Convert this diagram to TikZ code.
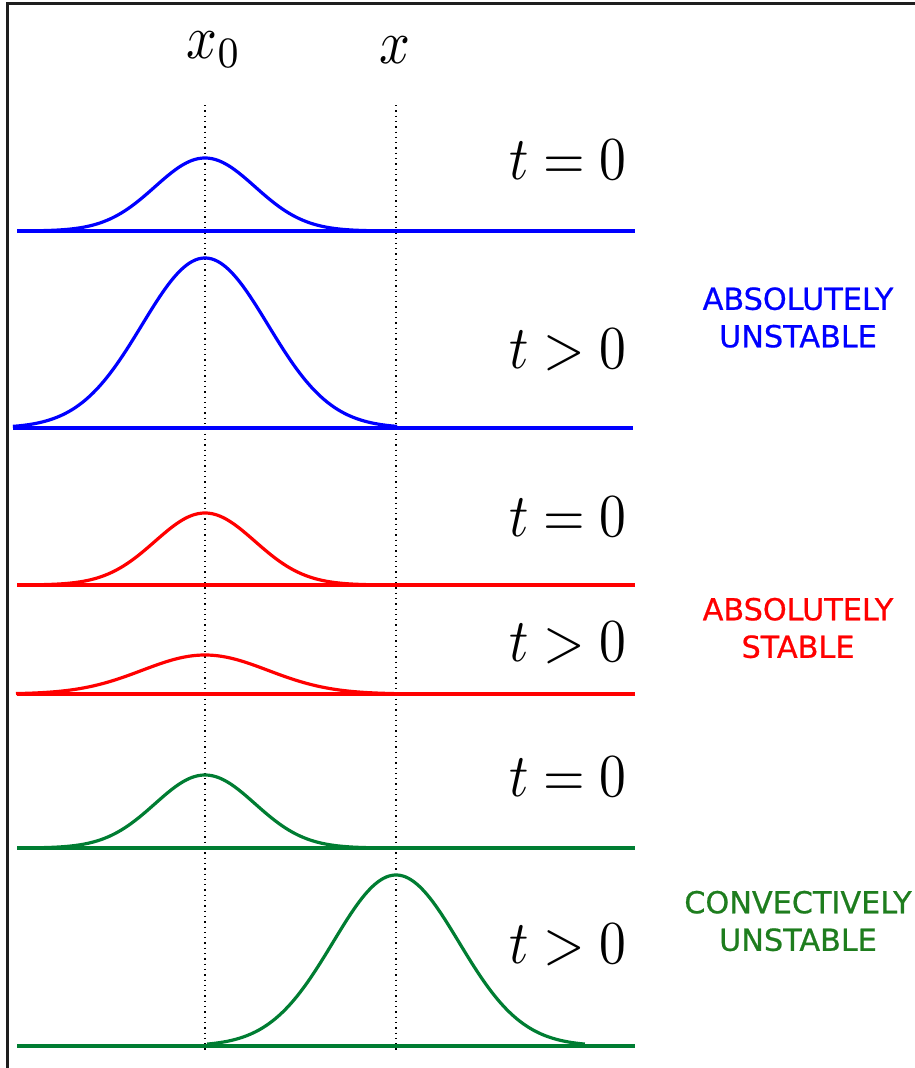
\documentclass[tikz,border=0pt]{standalone}
\usepackage{fontspec}
\usepackage{graphicx}
\newfontfamily\dvsans[FakeBold=0.7]{DejaVu Sans}
\definecolor{cblue}{RGB}{0,0,255}
\definecolor{cred}{RGB}{255,0,0}
\definecolor{cgreen}{RGB}{0,125,50}
\definecolor{tgreen}{RGB}{30,125,30}
\definecolor{framec}{RGB}{30,30,30}
\tikzset{
  curve/.style={line width=3.2pt, line join=round},
  guide/.style={line width=1.2pt, dash pattern=on 1.3pt off 4pt},
  tlabel/.style={inner sep=0pt},
  xlabel/.style={inner sep=0pt},
  side/.style={inner sep=0pt, align=center, font=\dvsans\fontsize{30.3}{37.5}\selectfont},
}
\newcommand{\tlab}[1]{\scalebox{5.35}[6.1]{$#1$}}
\newcommand{\xlab}[1]{\scalebox{5.4}[6.2]{$#1$}}
% color, base, height, center, sigma, half-range in sigma
\newcommand{\gauss}[6]{%
  \draw[#1, curve] plot[domain=-#6:#6, samples=140, smooth] ({#4+#5*\x}, {#2 - #3*exp(-0.5*\x*\x)});
}
\begin{document}
\begin{tikzpicture}[x=1pt, y=-1pt]
\useasboundingbox (0,0) rectangle (915,1068);
% frame
\draw[framec, line width=2.2pt] (915,3.5) -- (7.5,3.5) -- (7.5,1068);
% guide coordinates
\coordinate (g0top) at (205,105);
\coordinate (g0bot) at (205,1050);
\coordinate (g1top) at (396,105);
\coordinate (g1bot) at (396,1050);
\draw[guide] (g0top) -- (g0bot);
\draw[guide] (g1top) -- (g1bot);
% top labels
\node[xlabel] (lx0) at (214,50) {\xlab{x_0}};
\node[xlabel] (lx) at (395,50) {\xlab{x}};
% panel 1 blue t=0
\coordinate (b1l) at (17,231); \coordinate (b1r) at (635,231);
\draw[cblue, curve] (b1l) -- (b1r);
\gauss{cblue}{231}{73}{205}{50}{3.3}
\node[tlabel] (t1) at (568,160) {\tlab{t=0}};
% panel 2 blue t>0
\coordinate (b2l) at (13,428); \coordinate (b2r) at (633,428);
\draw[cblue, curve] (b2l) -- (b2r);
\gauss{cblue}{428}{170}{205}{63}{3.05}
\node[tlabel] (t2) at (568,350) {\tlab{t>0}};
% panel 3 red t=0
\coordinate (b3l) at (17,585); \coordinate (b3r) at (635,585);
\draw[cred, curve] (b3l) -- (b3r);
\gauss{cred}{585}{72}{205}{50}{3.3}
\node[tlabel] (t3) at (568,517) {\tlab{t=0}};
% panel 4 red t>0
\coordinate (b4l) at (17,694); \coordinate (b4r) at (635,694);
\draw[cred, curve] (b4l) -- (b4r);
\gauss{cred}{694}{39}{205}{63}{3.0}
\node[tlabel] (t4) at (568,643) {\tlab{t>0}};
% panel 5 green t=0
\coordinate (b5l) at (17,848); \coordinate (b5r) at (635,848);
\draw[cgreen, curve] (b5l) -- (b5r);
\gauss{cgreen}{848}{73}{205}{50}{3.3}
\node[tlabel] (t5) at (568,777) {\tlab{t=0}};
% panel 6 green t>0
\coordinate (b6l) at (17,1046); \coordinate (b6r) at (635,1046);
\draw[cgreen, curve] (b6l) -- (b6r);
\gauss{cgreen}{1046}{171}{396}{63}{3.0}
\node[tlabel] (t6) at (568,945) {\tlab{t>0}};
% side labels
\node[side, text=cblue] (s1) at (798,317.5) {ABSOLUTELY\\UNSTABLE};
\node[side, text=cred] (s2) at (798,628) {ABSOLUTELY\\STABLE};
\node[side, text=tgreen] (s3) at (798,921) {CONVECTIVELY\\UNSTABLE};
\end{tikzpicture}
\end{document}
